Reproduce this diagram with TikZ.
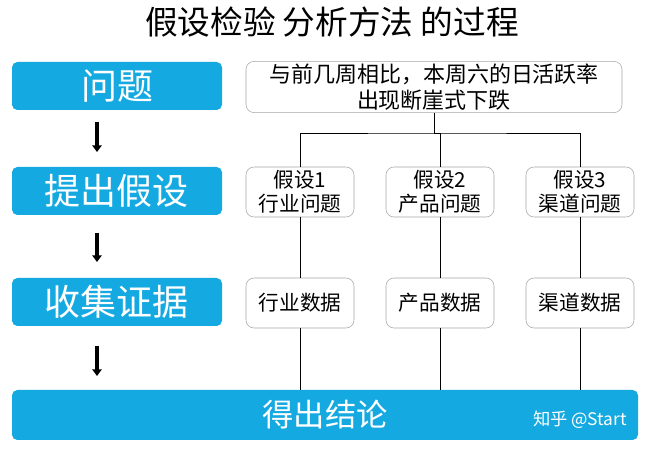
\documentclass[tikz,border=0pt]{standalone}
\usepackage{fontspec}
\setmainfont{Noto Sans CJK SC}
\usetikzlibrary{arrows.meta}
\definecolor{barblue}{HTML}{15A9E1}
\tikzset{
  bluebox/.style={fill=barblue, rounded corners=4pt, text=white, font=\fontsize{27}{29}\selectfont},
  greybox/.style={draw=gray!70, rounded corners=6pt, fill=white, align=center, font=\fontsize{15.5}{18}\selectfont, inner sep=2pt},
  downarrow/.style={-{Triangle[length=5pt,width=7pt]}, line width=2.5pt},
}
\begin{document}
\begin{tikzpicture}[x=0.75pt,y=0.75pt,yscale=-1,xscale=1]
  \useasboundingbox (0,0) rectangle (651,449);
  %title
  \node (title) at (332,22) {\fontsize{24.5}{26}\selectfont 假设检验 分析方法 的过程};
  %left column
  \node[bluebox, minimum width=157.5pt, minimum height=36pt] (q) at (117,86) {问题};
  \node[bluebox, minimum width=157.5pt, minimum height=36pt] (h) at (117,191) {提出假设};
  \node[bluebox, minimum width=157.5pt, minimum height=36pt] (e) at (117,302) {收集证据};
  \node[bluebox, minimum width=469.5pt, minimum height=37.5pt, font=\fontsize{23.5}{25}\selectfont] (c) at (325,415) {得出结论};
  \node[text=white, font=\fontsize{13}{15}\selectfont] (mark) at (580,420) {知乎 @Start};
  \coordinate (a1) at (97,122); \coordinate (b1) at (97,152);
  \coordinate (a2) at (97,233); \coordinate (b2) at (97,262);
  \coordinate (a3) at (97,346); \coordinate (b3) at (97,376);
  \draw[downarrow] (a1) -- (b1);
  \draw[downarrow] (a2) -- (b2);
  \draw[downarrow] (a3) -- (b3);
  %tree
  \node[greybox, minimum width=282pt, minimum height=37.5pt, font=\fontsize{16.5}{19}\selectfont] (top) at (434,87) {与前几周相比，本周六的日活跃率\\出现断崖式下跌};
  \coordinate (split) at (434,133);
  \foreach \n/\x/\t/\d in {1/300/行业/行业数据, 2/440/产品/产品数据, 3/580/渠道/渠道数据} {
    \node[greybox, minimum width=81pt, minimum height=37.5pt] (h\n) at (\x,192) {假设\n\\\t 问题};
    \node[greybox, minimum width=81pt, minimum height=37.5pt] (d\n) at (\x,303) {\d};
    \draw (h\n) -- (d\n);
    \draw (d\n.south) -- (d\n.south |- c.north);
  }
  \draw (top) -- (split);
  \draw (h1.north) |- (split) -| (h3.north);
  \draw (split) -| (h2.north);
\end{tikzpicture}
\end{document}
